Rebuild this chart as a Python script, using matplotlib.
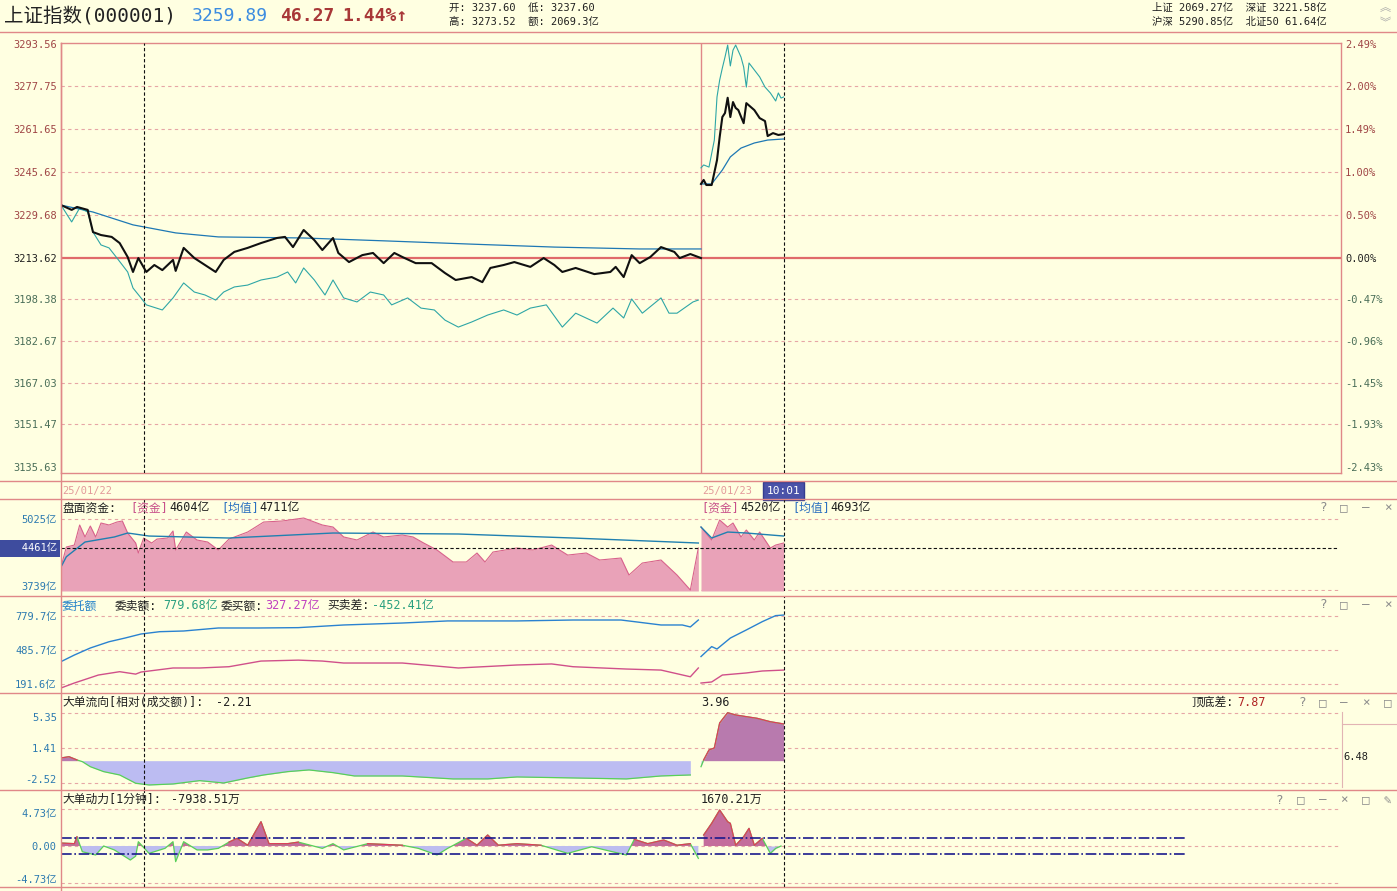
import numpy as np
import matplotlib
matplotlib.use('Agg')
import matplotlib.pyplot as plt
import matplotlib.transforms as mtransforms
from matplotlib.lines import Line2D

plt.rcParams['font.family'] = ['DejaVu Sans Mono', 'Noto Sans CJK SC', 'DejaVu Sans']
plt.rcParams['axes.unicode_minus'] = False

# ---------------- data (minute index: day1 0..240, day2 240..480) ----------------
prev_close = 3213.62
price_ticks = [3293.56, 3277.75, 3261.65, 3245.62, 3229.68, 3213.62,
               3198.38, 3182.67, 3167.03, 3151.47, 3135.63]
pct_labels = ['2.49%', '2.00%', '1.49%', '1.00%', '0.50%', '0.00%',
              '-0.47%', '-0.96%', '-1.45%', '-1.93%', '-2.43%']
cross_min = [31, 271]          # 10:01 on both days

# 指数 (black)
d1_min = [0, 4, 6, 10, 12, 15, 19, 22, 25, 27, 29, 32, 35, 38, 42, 43, 46, 50, 54, 58,
          61, 65, 70, 75, 81, 84, 87, 91, 95, 98, 102, 104, 108, 113, 117, 121, 125, 128, 133, 139,
          144, 148, 154, 158, 161, 166, 170, 176, 181, 185, 188, 193, 200, 206, 208, 211, 214, 217, 221, 225,
          230, 232, 236, 240]
d1_px = [3233.4, 3231.6, 3232.7, 3231.6, 3223.3, 3222.2, 3221.5, 3219.2, 3214.0, 3208.4,
         3213.6, 3208.4, 3211.0, 3209.1, 3212.9, 3208.8, 3217.4, 3213.6, 3211.0, 3208.4,
         3212.9, 3215.9, 3217.4, 3219.2, 3221.1, 3221.5, 3217.7, 3224.1, 3220.3, 3216.6,
         3221.1, 3215.5, 3212.1, 3214.7, 3215.5, 3211.7, 3215.5, 3214.0, 3211.7, 3211.7,
         3208.0, 3205.4, 3206.5, 3204.6, 3209.9, 3211.0, 3212.1, 3210.3, 3213.6, 3211.0,
         3208.4, 3209.9, 3207.6, 3208.4, 3210.3, 3206.5, 3214.7, 3211.7, 3214.0, 3217.7,
         3215.9, 3213.6, 3215.1, 3213.6]
d2_min = [240, 241, 242, 244, 246, 247, 248, 249, 250, 251, 252, 253, 254, 256, 257, 260,
          262, 264, 265, 267, 269, 271]
d2_px = [3241.3, 3242.8, 3240.9, 3240.9, 3250.2, 3258.8, 3266.3, 3267.8, 3273.5, 3266.3,
         3271.9, 3269.7, 3268.9, 3264.0, 3271.5, 3268.9, 3265.9, 3264.8, 3259.2, 3260.3,
         3259.6, 3259.9]

# 不含加权 (cyan)
c1_min = [0, 4, 7, 10, 12, 15, 18, 21, 25, 27, 30, 32, 38, 42, 46, 50, 54, 58, 61, 65,
          70, 75, 81, 85, 88, 91, 95, 99, 102, 106, 111, 116, 121, 124, 130, 135, 140, 144, 149, 154,
          160, 166, 171, 176, 182, 188, 193, 201, 207, 211, 214, 218, 225, 228, 231, 237, 239]
c1_px = [3233.4, 3227.1, 3232.3, 3230.8, 3223.3, 3218.5, 3217.4, 3213.6, 3208.4, 3202.4,
         3198.7, 3196.1, 3194.2, 3198.7, 3204.3, 3200.9, 3199.8, 3197.9, 3200.9, 3202.8,
         3203.5, 3205.4, 3206.5, 3208.4, 3204.3, 3209.9, 3205.4, 3199.8, 3205.4, 3198.7,
         3197.2, 3200.9, 3199.8, 3196.1, 3198.7, 3194.9, 3194.2, 3190.4, 3187.8, 3189.7,
         3192.3, 3194.2, 3192.3, 3194.9, 3196.1, 3187.8, 3193.0, 3189.3, 3194.9, 3191.2,
         3198.3, 3193.0, 3198.7, 3193.0, 3193.0, 3197.2, 3197.9]
c2_min = [240, 241, 243, 245, 246, 247, 248, 249, 250, 251, 252, 253, 255, 256, 257, 258,
          260, 262, 264, 266, 268, 269, 270, 271]
c2_px = [3247.3, 3248.4, 3247.6, 3257.7, 3273.8, 3280.1, 3284.6, 3288.7, 3293.2, 3285.4,
         3291.3, 3293.2, 3288.7, 3285.0, 3277.5, 3286.5, 3283.9, 3281.3, 3277.5, 3275.3,
         3272.3, 3275.3, 3273.4, 3273.8]

# 均价 (blue)
a1_min = [0, 12, 27, 43, 59, 91, 122, 154, 185, 217, 240]
a1_px = [3233.4, 3230.8, 3226.0, 3223.0, 3221.5, 3221.1, 3220.0, 3218.8, 3217.7, 3217.0, 3217.0]
a2_min = [240, 244, 248, 251, 255, 260, 265, 271]
a2_px = [3241.3, 3241.3, 3246.5, 3251.4, 3254.7, 3256.6, 3257.7, 3258.1]

# 盘面资金 (亿)
cap1_min = [0, 2, 5, 7, 9, 11, 13, 15, 18, 21, 23, 25, 28, 29, 31, 34, 36, 40, 42, 43,
            47, 51, 55, 59, 63, 70, 76, 83, 91, 98, 102, 106, 111, 117, 121, 128, 132, 136, 141, 147,
            152, 156, 159, 162, 171, 177, 184, 190, 197, 202, 210, 213, 218, 225, 231, 236, 239]
cap1_val = [4104, 4487, 4525, 4910, 4680, 4890, 4680, 4948, 4910, 4967,
            4987, 4756, 4564, 4372, 4660, 4564, 4640, 4660, 4795, 4430,
            4775, 4622, 4583, 4430, 4640, 4775, 4967, 4987, 5044, 4910,
            4871, 4680, 4622, 4775, 4680, 4718, 4680, 4564, 4430, 4200,
            4200, 4372, 4200, 4391, 4468, 4430, 4525, 4333, 4372, 4238,
            4276, 3950, 4180, 4238, 3950, 3662, 4468]
cap2_min = [240, 244, 247, 250, 252, 255, 257, 260, 262, 266, 268, 271]
cap2_val = [4871, 4622, 5006, 4871, 4948, 4680, 4814, 4622, 4775, 4468, 4525, 4564]
capavg1_min = [0, 2, 9, 20, 25, 33, 63, 102, 149, 192, 239]
capavg1_val = [4104, 4300, 4583, 4680, 4756, 4698, 4660, 4756, 4737, 4660, 4564]
capavg2_min = [240, 244, 250, 257, 271]
capavg2_val = [4871, 4660, 4775, 4756, 4698]
cap_cross = 4461
cap_ticks = [5025, 3739]

# 委托额 (亿)
ask1_min = [0, 5, 11, 18, 24, 30, 37, 46, 59, 74, 89, 106, 128, 145, 171, 192, 210, 216, 225, 233, 236, 239]
ask1_val = [385, 442, 503, 557, 589, 624, 644, 650, 676, 676, 679, 702, 719, 737, 737, 745, 745, 728, 702, 702, 685, 745]
ask2_min = [240, 244, 246, 251, 257, 263, 268, 271]
ask2_val = [429, 515, 494, 589, 659, 731, 783, 788]
bid1_min = [0, 5, 14, 22, 28, 30, 42, 52, 63, 75, 89, 98, 106, 128, 149, 171, 184, 192, 212, 225, 236, 239]
bid1_val = [157, 200, 269, 298, 277, 295, 330, 330, 341, 390, 398, 390, 373, 373, 330, 356, 365, 341, 321, 312, 254, 330]
bid2_min = [240, 244, 248, 257, 263, 271]
bid2_val = [200, 209, 269, 287, 304, 312]
order_ticks = [779.7, 485.7, 191.6]

# 大单流向
flow1_min = [0, 3, 6, 8, 11, 16, 22, 28, 33, 42, 52, 61, 70, 76, 85, 93, 102, 110, 128, 147,
             160, 171, 192, 212, 225, 236]
flow1_val = [0.30, 0.44, 0.08, -0.11, -0.67, -1.22, -1.59, -2.51, -2.70, -2.59,
             -2.22, -2.48, -1.92, -1.59, -1.22, -1.03, -1.33, -1.70, -1.70, -2.03,
             -2.03, -1.81, -1.92, -2.03, -1.70, -1.59]
flow2_min = [240, 241, 243, 245, 247, 250, 253, 257, 261, 266, 271]
flow2_val = [-0.67, 0.08, 1.19, 1.41, 4.19, 5.33, 5.08, 4.89, 4.71, 4.33, 4.08]
flow_ticks = [5.35, 1.41, -2.52]

# 大单动力 (亿)
pow1_min = [0, 5, 6, 8, 13, 16, 20, 26, 28, 29, 33, 39, 42, 43, 46, 51, 55, 59, 63, 66,
            70, 75, 78, 85, 89, 98, 102, 106, 115, 128, 134, 141, 145, 152, 156, 160, 164, 171, 180, 190,
            199, 212, 215, 220, 226, 231, 236, 239]
pow1_val = [0.38, 0.3, 1.19, -0.73, -1.15, 0, -0.5, -1.79, -1.3, 0.55,
            -0.94, -0.3, 0.55, -2.0, 0.55, -0.5, -0.5, -0.3, 0.5, 0.98,
            0.1, 3.11, 0.3, 0.3, 0.5, -0.3, 0.3, -0.5, 0.3, 0.1,
            -0.3, -1.15, -0.3, 0.98, 0.1, 1.41, 0.1, 0.3, 0.1, -0.94,
            -0.1, -1.15, 0.85, 0.3, 0.77, 0.1, 0.3, -1.58]
pow2_min = [241, 244, 247, 250, 251, 253, 256, 258, 260, 263, 266, 268, 270]
pow2_val = [1.41, 2.9, 4.6, 3.1, 2.9, 0.1, 1.19, 2.26, 0.1, 0.98, -0.94, -0.3, 0.0]
pow_ticks = [4.73, 0.0, -4.73]
pow_labels = ['4.73亿', '0.00', '-4.73亿']
pow_band = 1.0

# ---------------- layout ----------------
W, H = 1397, 891
BG = '#FFFFE1'
FRAME = '#E08888'
GRID = '#E6A6A6'
AXBLUE = '#2C7AB0'
DASH = (0, (3, 3))

fig = plt.figure(figsize=(W / 100, H / 100), dpi=100, facecolor=BG)


def box(x0, y0, x1, y1):
    return [x0 / W, 1 - y1 / H, (x1 - x0) / W, (y1 - y0) / H]


def hline(y, x0=0, x1=W, color=FRAME, lw=1.0):
    fig.add_artist(Line2D([x0 / W, x1 / W], [1 - y / H, 1 - y / H], color=color, lw=lw))


def vline(x, y0, y1, color=FRAME, lw=1.0):
    fig.add_artist(Line2D([x / W, x / W], [1 - y0 / H, 1 - y1 / H], color=color, lw=lw))


def label(x, y, s, color='#202020', size=8.5, **kw):
    fig.text(x / W, 1 - y / H, s, color=color, fontsize=size, va='center', ha='left', **kw)


def crosshair(a):
    for m in cross_min:
        a.axvline(m, color='#111111', lw=0.8, ls=(0, (3, 2)), zorder=5)


def panel(y0, y1, ylim, ticks, labels):
    a = fig.add_axes(box(61, y0, 1341, y1))
    a.set_facecolor('none')
    a.set_xlim(0, 480)
    a.set_ylim(*ylim)
    a.set_xticks([])
    a.set_yticks(ticks)
    a.set_yticklabels(labels)
    for s in a.spines.values():
        s.set_visible(False)
    a.tick_params(axis='y', length=0, pad=3, labelsize=7.5, labelcolor=AXBLUE)
    crosshair(a)
    return a


def signed_area(a, m, v, pos_fill, neg_fill):
    m = np.array(m, dtype=float)
    v = np.array(v, dtype=float)
    a.fill_between(m, v, 0, where=v >= 0, interpolate=True, color=pos_fill, lw=0, zorder=2)
    a.fill_between(m, v, 0, where=v <= 0, interpolate=True, color=neg_fill, lw=0, zorder=2)
    a.plot(m, v, color='#58D058', lw=0.9, zorder=3)
    a.plot(m, np.ma.masked_less(v, 0), color='#E03C5A', lw=0.9, zorder=3)


# ---- main price panel ----
ax = fig.add_axes(box(61, 43, 1341, 473))
ax.set_facecolor('none')
ax.set_xlim(0, 480)
ax.set_ylim(3133.27, 3293.97)
ax.set_xticks([])
for s in ax.spines.values():
    s.set_color(FRAME)
    s.set_linewidth(1.0)
ax.set_yticks(price_ticks)
ax.set_yticklabels([f'{p:.2f}' for p in price_ticks])
ax.tick_params(axis='y', length=0, pad=3, labelsize=7.5)
ar = ax.twinx()
ar.set_ylim(ax.get_ylim())
ar.set_yticks(price_ticks)
ar.set_yticklabels(pct_labels)
ar.tick_params(axis='y', length=0, pad=3, labelsize=7.5)
for s in ar.spines.values():
    s.set_visible(False)
for t_l, t_r, p in zip(ax.get_yticklabels(), ar.get_yticklabels(), price_ticks):
    c = '#A04646' if p > prev_close else ('#202020' if p == prev_close else '#4A6E58')
    t_l.set_color(c)
    t_r.set_color(c)

for p in price_ticks[1:-1]:
    if p != prev_close:
        ax.axhline(p, color=GRID, lw=0.8, ls=DASH, zorder=1)
ax.axhline(prev_close, color='#E06A6A', lw=1.6, zorder=1)
ax.axvline(240, color=FRAME, lw=1.0, zorder=1)
crosshair(ax)

ax.plot(a1_min, a1_px, color='#1E78B4', lw=0.9, zorder=3)
ax.plot(a2_min, a2_px, color='#1E78B4', lw=0.9, zorder=3)
ax.plot(c1_min, c1_px, color='#2EA6A6', lw=0.8, zorder=3)
ax.plot(c2_min, c2_px, color='#2EA6A6', lw=0.8, zorder=3)
ax.plot(d1_min, d1_px, color='#101010', lw=1.5, zorder=4)
ax.plot(d2_min, d2_px, color='#101010', lw=1.5, zorder=4)

# ---- date strip ----
ad = fig.add_axes(box(61, 481, 1341, 499))
ad.axis('off')
ad.set_xlim(0, 480)
ad.set_ylim(0, 1)
ad.text(0.5, 0.45, '25/01/22', color='#E39A9A', fontsize=7.5, va='center', ha='left')
ad.text(240.5, 0.45, '25/01/23', color='#E39A9A', fontsize=7.5, va='center', ha='left')
ad.text(cross_min[1], 0.45, '10:01', color='white', fontsize=8, va='center', ha='center',
        bbox=dict(boxstyle='square,pad=0.35', facecolor='#4A52A8', edgecolor='#343C90'))

# ---- 盘面资金 ----
ax2 = panel(499, 591, (3643, 5409), cap_ticks, [f'{v}亿' for v in cap_ticks])
ax2.axhline(5025, color=GRID, lw=0.8, ls=DASH, zorder=1)
ax2.axhline(3660, color=GRID, lw=0.8, ls=DASH, zorder=1)
ax2.fill_between(cap1_min, cap1_val, 3643, color='#E9A2B8', lw=0, zorder=2)
ax2.fill_between(cap2_min, cap2_val, 3643, color='#E9A2B8', lw=0, zorder=2)
ax2.plot(cap1_min, cap1_val, color='#D8628C', lw=0.8, zorder=3)
ax2.plot(cap2_min, cap2_val, color='#D8628C', lw=0.8, zorder=3)
ax2.plot(capavg1_min, capavg1_val, color='#2080B0', lw=1.0, zorder=3)
ax2.plot(capavg2_min, capavg2_val, color='#2080B0', lw=1.0, zorder=3)
ax2.axhline(cap_cross, xmax=0.997, color='#111111', lw=0.8, ls=(0, (3, 2)), zorder=5)
ax2.text(-0.003, cap_cross, f'   {cap_cross}亿', transform=mtransforms.blended_transform_factory(ax2.transAxes, ax2.transData),
         ha='right', va='center', color='white', fontsize=7.5, zorder=6,
         bbox=dict(boxstyle='square,pad=0.3', facecolor='#3E4C9E', edgecolor='none'))

# ---- 委托额 ----
ax3 = panel(596, 692, (122.3, 952.7), order_ticks, [f'{v}亿' for v in order_ticks])
for v in order_ticks:
    ax3.axhline(v, color=GRID, lw=0.8, ls=DASH, zorder=1)
ax3.plot(ask1_min, ask1_val, color='#2A82D0', lw=1.0, zorder=3)
ax3.plot(ask2_min, ask2_val, color='#2A82D0', lw=1.0, zorder=3)
ax3.plot(bid1_min, bid1_val, color='#D0508A', lw=1.0, zorder=3)
ax3.plot(bid2_min, bid2_val, color='#D0508A', lw=1.0, zorder=3)

# ---- 大单流向 ----
ax4 = panel(693, 790, (-3.26, 7.52), flow_ticks, [f'{v:.2f}' for v in flow_ticks])
for v in flow_ticks:
    ax4.axhline(v, color=GRID, lw=0.8, ls=DASH, zorder=1)
signed_area(ax4, flow1_min, flow1_val, '#B87AAE', '#BCBCF2')
signed_area(ax4, flow2_min, flow2_val, '#B87AAE', '#BCBCF2')

# ---- 大单动力 ----
ax5 = panel(790, 887, (-5.24, 7.16), pow_ticks, pow_labels)
for v in pow_ticks:
    ax5.axhline(v, color=GRID, lw=0.8, ls=DASH, zorder=1)
signed_area(ax5, pow1_min, pow1_val, '#C46C9C', '#BCBCF0')
signed_area(ax5, pow2_min, pow2_val, '#C46C9C', '#BCBCF0')
ax5.hlines([pow_band, -pow_band], 0, 422, color='#1A1A8C', lw=1.2, ls='-.', zorder=4)

# the reference squeezes the outer labels of the last two panels inward a little
for a in (ax4, ax5):
    labs = a.get_yticklabels()
    for t, dy in zip(labs, (-4, 0, 4)):
        t.set_transform(t.get_transform() + mtransforms.ScaledTranslation(0, dy / 100, fig.dpi_scale_trans))

# ---- frames ----
for y in (32, 481, 499, 596, 693, 790, 887):
    hline(y)
vline(61, 43, 891)
vline(1342, 712, 787, color='#E2B4B4', lw=0.8)
hline(724, 1342, W, color='#E2B4B4', lw=0.8)

# ---- header ----
label(4, 16, '上证指数(000001)', color='#222222', size=14)
label(192, 16, '3259.89', color='#3C8CE0', size=13)
label(280, 16, '46.27', color='#A83838', size=13, weight='bold')
label(342, 16, '1.44%↑', color='#A83838', size=13, weight='bold')
label(449, 8, '开: 3237.60  低: 3237.60', size=7.5)
label(449, 22, '高: 3273.52  额: 2069.3亿', size=7.5)
label(1152, 8, '上证 2069.27亿  深证 3221.58亿', size=7.5)
label(1152, 22, '沪深 5290.85亿  北证50 61.64亿', size=7.5)
label(1380, 8, '︽', color='#A8A8A8', size=8)
label(1380, 23, '︾', color='#A8A8A8', size=8)

# ---- panel titles ----
BLK = '#202020'
for x, s, c in [(62, '盘面资金:', BLK), (130, '[资金]', '#C8508A'), (169, '4604亿', BLK),
                (221, '[均值]', '#2C70C0'), (259, '4711亿', BLK),
                (701, '[资金]', '#C8508A'), (740, '4520亿', BLK),
                (792, '[均值]', '#2C70C0'), (830, '4693亿', BLK)]:
    label(x, 508, s, color=c)
for x, s, c in [(62, '委托额', '#2080C8'), (115, '委卖额:', BLK), (163, '779.68亿', '#2AA080'),
                (221, '委买额:', BLK), (265, '327.27亿', '#C040C0'),
                (327, '买卖差:', BLK), (372, '-452.41亿', '#2AA080')]:
    label(x, 606, s, color=c)
for x, s, c in [(62, '大单流向[相对(成交额)]:', BLK), (216, '-2.21', BLK), (701, '3.96', BLK),
                (1192, '顶底差:', BLK), (1237, '7.87', '#B02424')]:
    label(x, 702, s, color=c)
for x, s, c in [(62, '大单动力[1分钟]:', BLK), (171, '-7938.51万', BLK), (701, '1670.21万', BLK)]:
    label(x, 799, s, color=c)
label(1343, 757, '6.48', size=7.5)

# ---- panel buttons ----
ICON = '#8C8C8C'
for y, xs, glyphs in [(508, [1319, 1340, 1362, 1384], '?□—×'),
                      (605, [1319, 1340, 1362, 1384], '?□—×'),
                      (703, [1298, 1319, 1340, 1362, 1384], '?□—×□'),
                      (800, [1275, 1297, 1319, 1340, 1362, 1384], '?□—×□✎')]:
    for x, g in zip(xs, glyphs):
        label(x, y, g, color=ICON, size=9)

fig.savefig('out.png', dpi=100, facecolor=BG)
